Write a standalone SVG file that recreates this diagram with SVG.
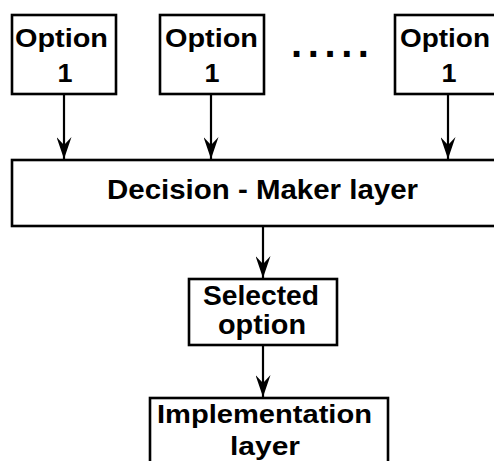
<svg xmlns="http://www.w3.org/2000/svg" width="494" height="461" viewBox="0 0 494 461">
  <style>
    .box { fill: #ffffff; stroke: #000000; stroke-width: 2.6; }
    .lbl { font-family: "Liberation Sans", Arial, sans-serif; font-weight: bold; fill: #000000; text-anchor: middle; }
    .edge { stroke: #000000; stroke-width: 2.2; fill: none; marker-end: url(#arrow); }
  </style>
  <defs>
    <marker id="arrow" markerUnits="userSpaceOnUse" markerWidth="22" markerHeight="15" refX="22" refY="7.5" orient="auto">
      <path d="M0,0 L22,7.5 L0,15 L8,7.5 Z" fill="#000000"/>
    </marker>
  </defs>
  <rect width="494" height="461" fill="#ffffff"/>

  <g id="connectors">
    <line class="edge" x1="64" y1="94" x2="64" y2="159"/>
    <line class="edge" x1="211" y1="94" x2="211" y2="159"/>
    <line class="edge" x1="448" y1="94" x2="448" y2="159"/>
    <line class="edge" x1="263" y1="226" x2="263" y2="278"/>
    <line class="edge" x1="263" y1="345" x2="263" y2="397"/>
  </g>

  <g id="option-a">
    <rect class="box" x="12" y="15" width="104" height="79"/>
    <text class="lbl" x="61.5" y="47" font-size="25" textLength="93" lengthAdjust="spacingAndGlyphs">Option</text>
    <text class="lbl" x="65" y="82" font-size="25" textLength="15" lengthAdjust="spacingAndGlyphs">1</text>
  </g>

  <g id="option-b">
    <rect class="box" x="160" y="15" width="104" height="79"/>
    <text class="lbl" x="211.5" y="47" font-size="25" textLength="93" lengthAdjust="spacingAndGlyphs">Option</text>
    <text class="lbl" x="212" y="82" font-size="25" textLength="15" lengthAdjust="spacingAndGlyphs">1</text>
  </g>

  <g id="ellipsis">
    <text x="291" y="57" font-family="Liberation Sans, Arial, sans-serif" font-weight="bold" font-size="40" letter-spacing="5.6">.....</text>
  </g>

  <g id="option-n">
    <rect class="box" x="395" y="15" width="110" height="79"/>
    <text class="lbl" x="445" y="47" font-size="25" textLength="90" lengthAdjust="spacingAndGlyphs">Option</text>
    <text class="lbl" x="449" y="82" font-size="25" textLength="15" lengthAdjust="spacingAndGlyphs">1</text>
  </g>

  <g id="decision-maker">
    <rect class="box" x="12" y="160" width="500" height="66"/>
    <text class="lbl" x="262.5" y="199" font-size="27" textLength="311" lengthAdjust="spacingAndGlyphs">Decision - Maker layer</text>
  </g>

  <g id="selected-option">
    <rect class="box" x="189" y="279" width="148" height="66"/>
    <text class="lbl" x="261" y="305" font-size="27" textLength="116" lengthAdjust="spacingAndGlyphs">Selected</text>
    <text class="lbl" x="262" y="334" font-size="27" textLength="88" lengthAdjust="spacingAndGlyphs">option</text>
  </g>

  <g id="implementation">
    <rect class="box" x="150" y="398" width="238" height="80"/>
    <text class="lbl" x="264.5" y="423" font-size="25" textLength="215" lengthAdjust="spacingAndGlyphs">Implementation</text>
    <text class="lbl" x="265" y="455" font-size="25" textLength="70" lengthAdjust="spacingAndGlyphs">layer</text>
  </g>
</svg>
